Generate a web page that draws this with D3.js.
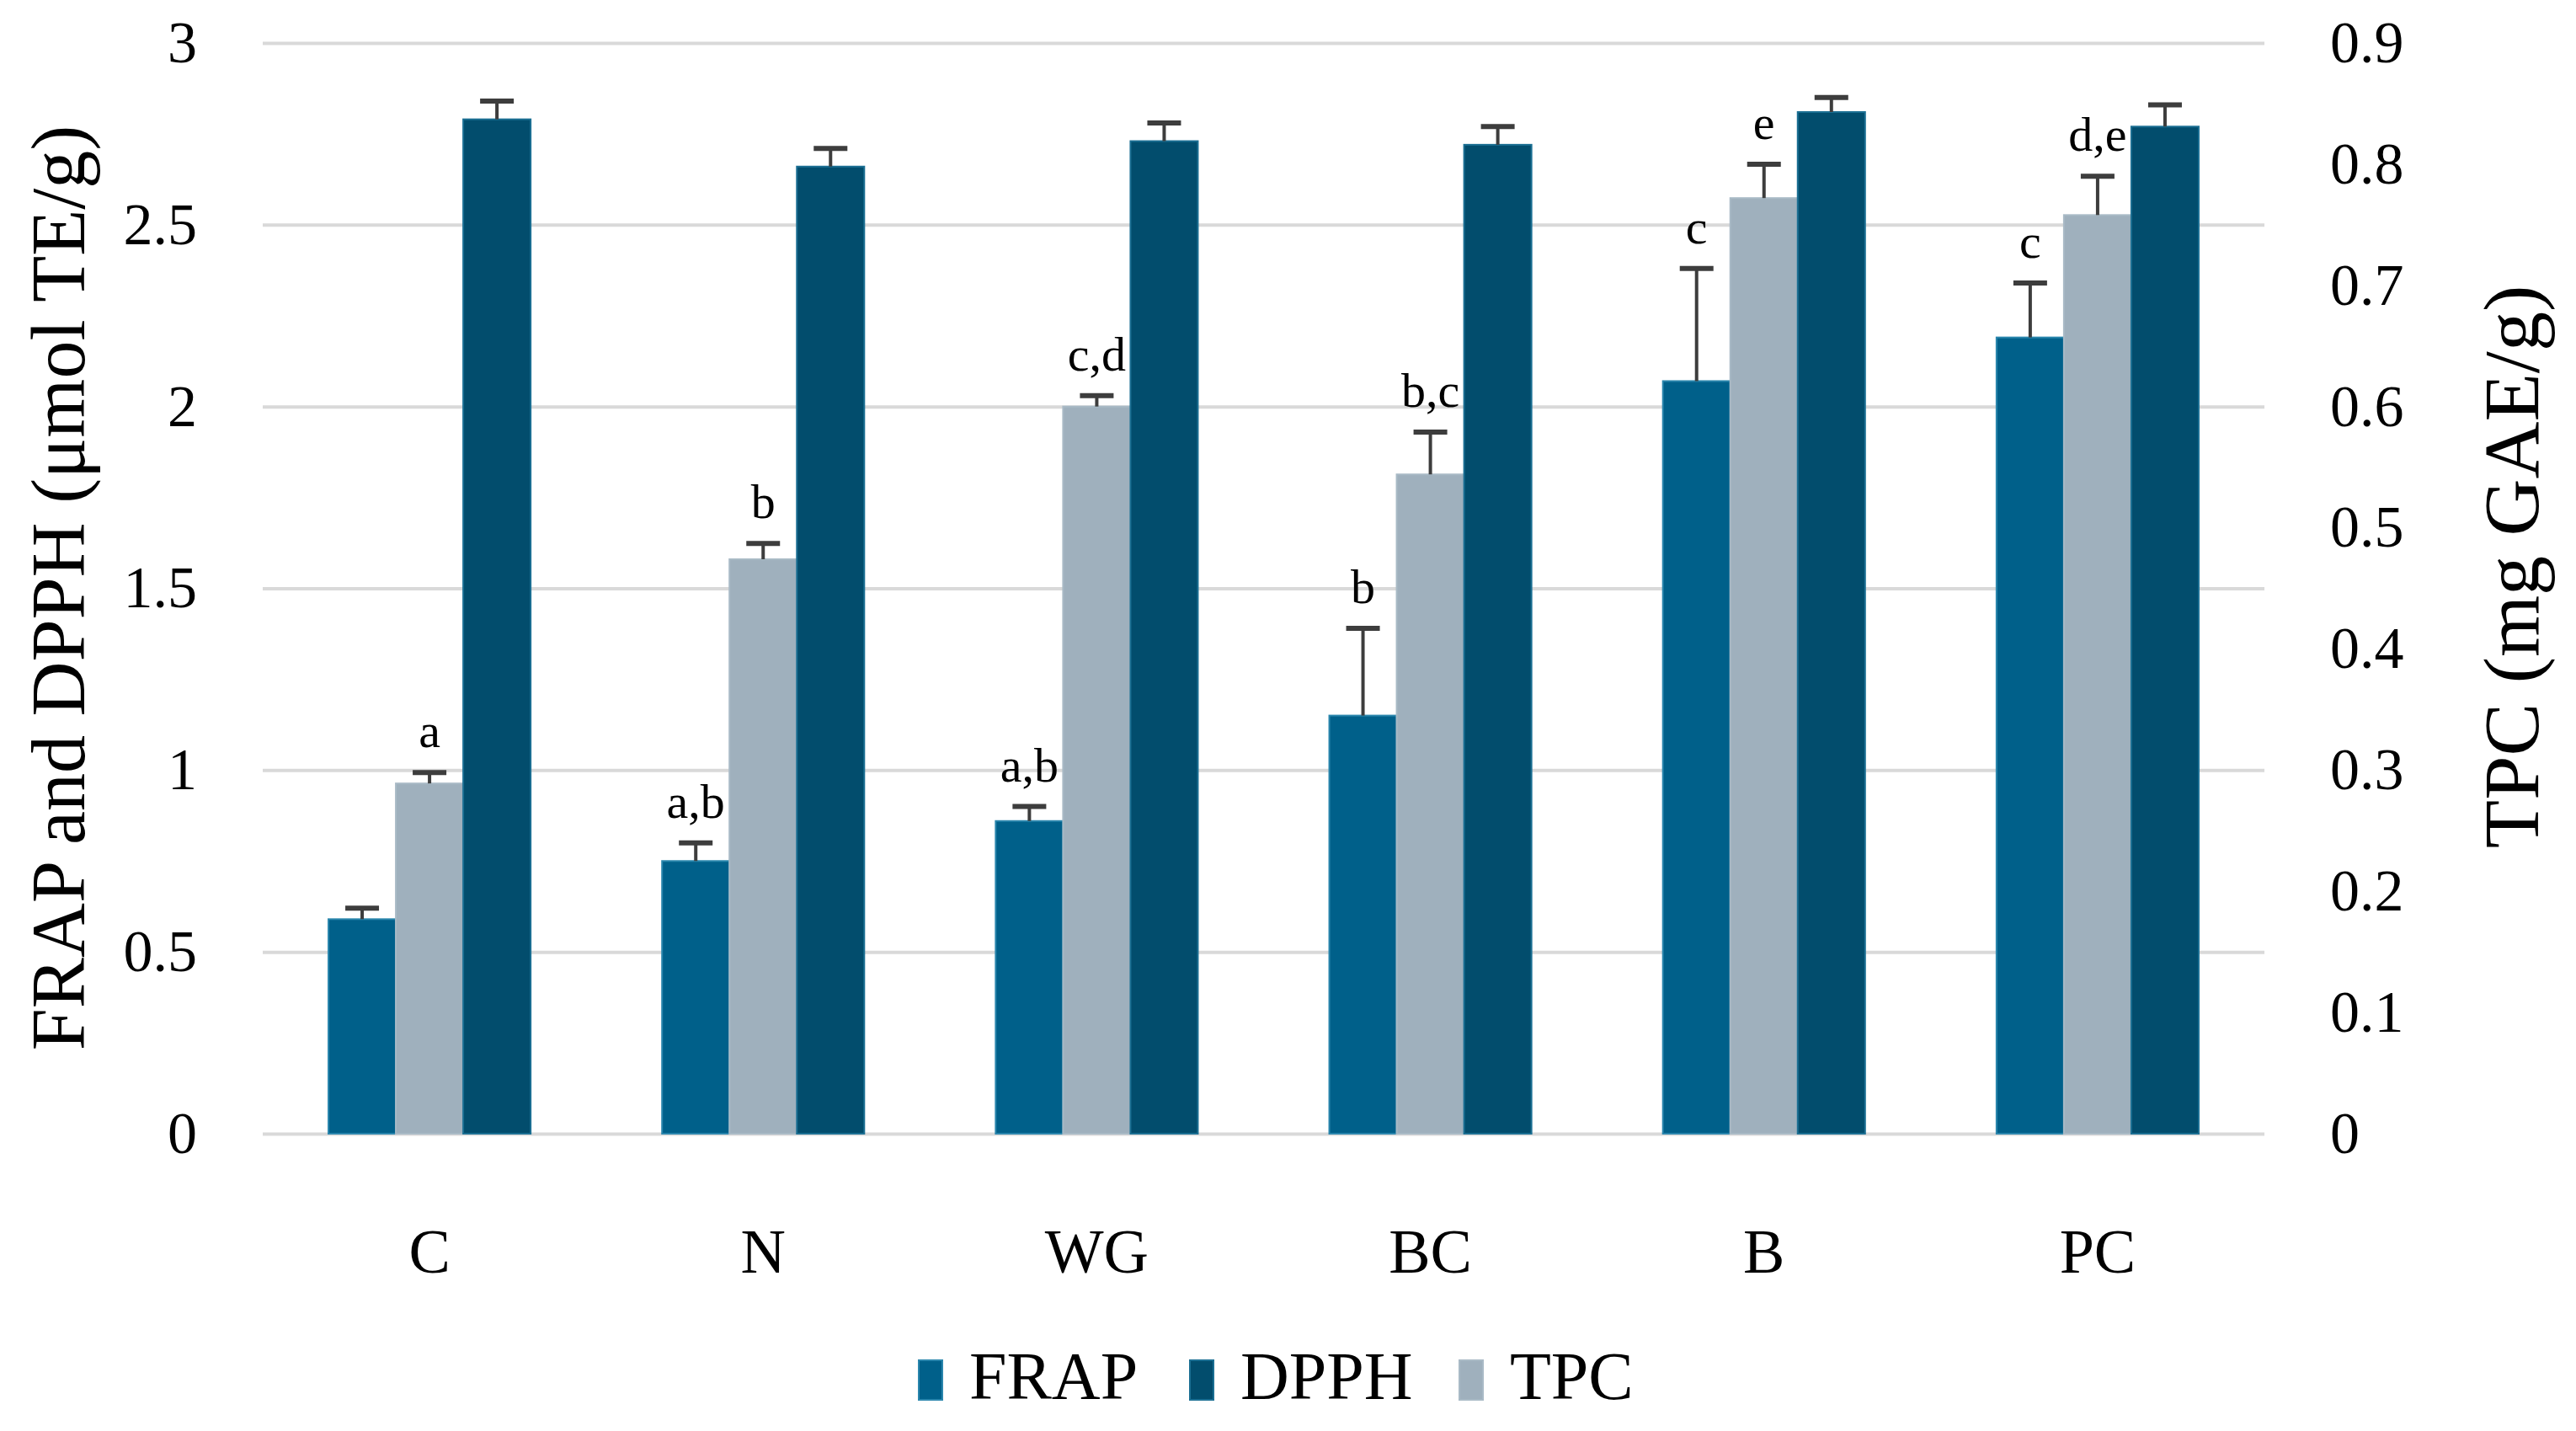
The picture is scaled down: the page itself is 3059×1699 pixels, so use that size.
<!DOCTYPE html>
<html>
<head>
<meta charset="utf-8">
<script src="https://cdn.jsdelivr.net/npm/d3@7"></script>
<style>
  html, body { margin: 0; padding: 0; background: #ffffff; }
  svg { display: block; }
  text { font-family: "Liberation Serif", "DejaVu Serif", serif; fill: #000; }
</style>
</head>
<body>
<svg id="chart" width="3059" height="1699"></svg>
<script>
// ---- data ----
const categories = ["C", "N", "WG", "BC", "B", "PC"];
const frap    = [0.59, 0.75, 0.86, 1.15, 2.07, 2.19];
const frapErr = [0.03, 0.05, 0.04, 0.24, 0.31, 0.15];
const dpph    = [2.79, 2.66, 2.73, 2.72, 2.81, 2.77];
const dpphErr = [0.05, 0.05, 0.05, 0.05, 0.04, 0.06];
const tpc     = [0.289, 0.474, 0.600, 0.544, 0.772, 0.758];
const tpcErr  = [0.009, 0.013, 0.009, 0.035, 0.028, 0.032];
const frapLabels = ["", "a,b", "a,b", "b", "c", "c"];
const tpcLabels  = ["a", "b", "c,d", "b,c", "e", "d,e"];
const leftTicks  = [0, 0.5, 1, 1.5, 2, 2.5, 3];
const rightTicks = [0, 0.1, 0.2, 0.3, 0.4, 0.5, 0.6, 0.7, 0.8, 0.9];
const seriesOrder  = ["FRAP", "TPC", "DPPH"];   // bar order within a group
const legendOrder  = ["FRAP", "DPPH", "TPC"];

// ---- styles ----
const colors = { FRAP: "#00608a", DPPH: "#024d6d", TPC: "#9fb0bd" };
const outline = { FRAP: "#2a86ad", DPPH: "#1b6f93", TPC: "#a9bac6" };

const svg = d3.select("#chart");
const L = 312, R = 2689, T = 51, B = 1346;

const x0 = d3.scaleBand().domain(categories).range([L, R]).padding(0);
const x1 = d3.scaleBand().domain(seriesOrder).range([0, x0.bandwidth()])
  .paddingInner(0).paddingOuter(0.975);
const yL = d3.scaleLinear().domain([0, 3]).range([B, T]);
const yR = d3.scaleLinear().domain([0, 0.9]).range([B, T]);

// gridlines
const gridAxis = d3.axisLeft(yL).tickValues(leftTicks).tickSize(-(R - L)).tickFormat("");
const gg = svg.append("g").attr("transform", `translate(${L},0)`).call(gridAxis);
gg.select(".domain").remove();
gg.selectAll(".tick line").attr("stroke", "#d9d9d9").attr("stroke-width", 4);

// left tick labels
const la = svg.append("g").attr("transform", `translate(${L},0)`)
  .call(d3.axisLeft(yL).tickValues(leftTicks).tickSize(0).tickPadding(78).tickFormat(d3.format("")));
la.select(".domain").remove();
la.selectAll("text").style("font-size", "70px").style("font-family", "Liberation Serif, serif").attr("fill", "#000");

// right tick labels
const ra = svg.append("g").attr("transform", `translate(${R},0)`)
  .call(d3.axisRight(yR).tickValues(rightTicks).tickSize(0).tickPadding(78).tickFormat(d3.format("")));
ra.select(".domain").remove();
ra.selectAll("text").style("font-size", "70px").style("font-family", "Liberation Serif, serif").attr("fill", "#000");

// category labels
const xa = svg.append("g").attr("transform", `translate(0,${B})`)
  .call(d3.axisBottom(x0).tickSize(0).tickPadding(112));
xa.select(".domain").remove();
xa.selectAll("text").style("font-size", "74px").style("font-family", "Liberation Serif, serif").attr("fill", "#000");

// bar data
const rows = categories.map((c, i) => ({
  cat: c,
  bars: [
    { key: "FRAP", v: frap[i], e: frapErr[i], y: yL, label: frapLabels[i] },
    { key: "TPC",  v: tpc[i],  e: tpcErr[i],  y: yR, label: tpcLabels[i] },
    { key: "DPPH", v: dpph[i], e: dpphErr[i], y: yL, label: "" }
  ]
}));

const groups = svg.append("g").selectAll("g").data(rows).join("g")
  .attr("transform", d => `translate(${x0(d.cat)},0)`);

groups.selectAll("rect").data(d => d.bars).join("rect")
  .attr("x", d => x1(d.key))
  .attr("width", x1.bandwidth())
  .attr("y", d => d.y(d.v))
  .attr("height", d => B - d.y(d.v))
  .attr("fill", d => colors[d.key])
  .attr("stroke", d => outline[d.key])
  .attr("stroke-width", 2);

// error bars (positive)
const eb = groups.selectAll("g.err").data(d => d.bars).join("g").attr("class", "err");
eb.append("line")
  .attr("x1", d => x1(d.key) + x1.bandwidth() / 2)
  .attr("x2", d => x1(d.key) + x1.bandwidth() / 2)
  .attr("y1", d => d.y(d.v))
  .attr("y2", d => d.y(d.v + d.e))
  .attr("stroke", "#3d3d3d").attr("stroke-width", 4);
eb.append("line")
  .attr("x1", d => x1(d.key) + x1.bandwidth() / 2 - 20)
  .attr("x2", d => x1(d.key) + x1.bandwidth() / 2 + 20)
  .attr("y1", d => d.y(d.v + d.e))
  .attr("y2", d => d.y(d.v + d.e))
  .attr("stroke", "#3d3d3d").attr("stroke-width", 6);

// significance letters
groups.selectAll("text.sig").data(d => d.bars.filter(b => b.label)).join("text")
  .attr("class", "sig")
  .attr("x", d => x1(d.key) + x1.bandwidth() / 2)
  .attr("y", d => d.y(d.v + d.e) - 30)
  .attr("text-anchor", "middle")
  .style("font-size", "58px")
  .text(d => d.label);

// axis titles
svg.append("text")
  .attr("transform", "translate(100,698) rotate(-90)")
  .attr("text-anchor", "middle")
  .style("font-size", "90px")
  .text("FRAP and DPPH (μmol TE/g)");
svg.append("text")
  .attr("transform", "translate(3014,673) rotate(-90)")
  .attr("text-anchor", "middle")
  .style("font-size", "94px")
  .text("TPC (mg GAE/g)");

// legend
const legendX = d3.scaleOrdinal().domain(legendOrder).range([1091, 1413, 1733]);
const lg = svg.append("g").selectAll("g").data(legendOrder).join("g")
  .attr("transform", d => `translate(${legendX(d)},1615)`);
lg.append("rect").attr("width", 28).attr("height", 47)
  .attr("fill", d => colors[d]).attr("stroke", d => outline[d]).attr("stroke-width", 2);
lg.append("text").attr("x", 60).attr("y", 46)
  .style("font-size", "80px").text(d => d);
</script>
</body>
</html>
